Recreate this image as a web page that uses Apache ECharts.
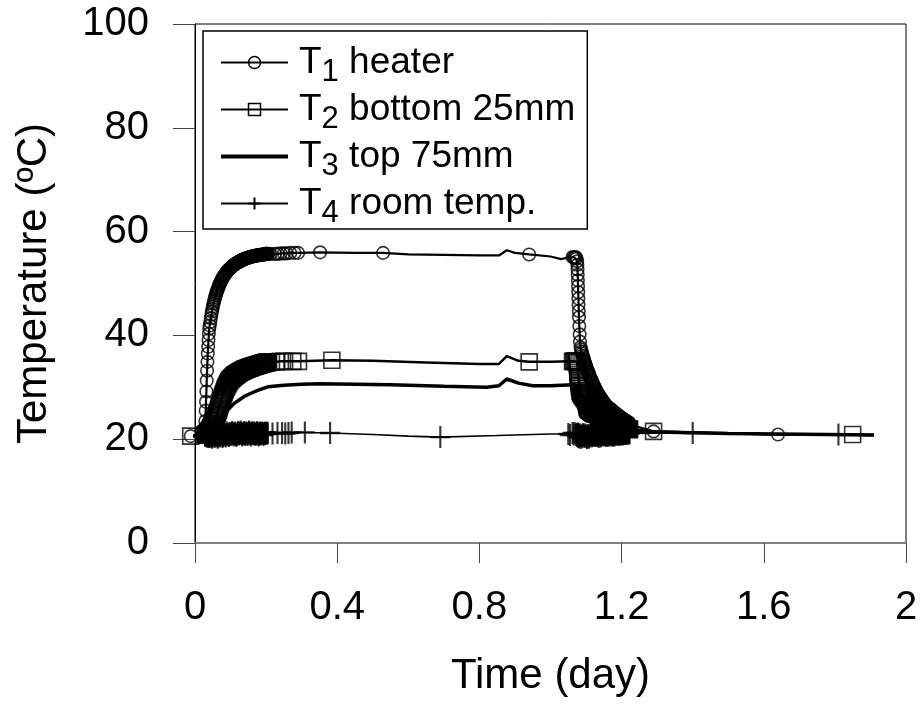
<!DOCTYPE html>
<html><head><meta charset="utf-8">
<script src="https://cdn.jsdelivr.net/npm/echarts@6/dist/echarts.min.js"></script>
<style>html,body{margin:0;padding:0;background:#fff}#c{width:922px;height:704px}</style>
</head><body><div id="c"></div>
<script>
const FONT = '"Liberation Sans", Arial, Helvetica, sans-serif';

const xTicks = [0, 0.4, 0.8, 1.2, 1.6, 2];
const yTicks = [0, 20, 40, 60, 80, 100];
const seriesNames = ['T1 heater', 'T2 bottom 25mm', 'T3 top 75mm', 'T4 room temp.'];
const legendRest = ['heater', 'bottom 25mm', 'top 75mm', 'room temp.'];

// dense logging while heating starts (shared time base, day) - T1, T2, T4
const heatTime = [0.028, 0.029, 0.030, 0.031, 0.032, 0.033, 0.034, 0.035, 0.036, 0.037, 0.038, 0.039, 0.040,
  0.0415, 0.0430, 0.0445, 0.0460, 0.0475, 0.0490, 0.0505, 0.0520, 0.0535, 0.0550,
  0.0565, 0.0580, 0.0595, 0.0610, 0.0625, 0.0640, 0.0655, 0.0670, 0.0685, 0.0700,
  0.0715, 0.0730, 0.0745, 0.0760, 0.0775, 0.0790, 0.0805, 0.0820, 0.0835, 0.0850,
  0.0865, 0.0880, 0.0895, 0.0910, 0.0925, 0.0940, 0.0955, 0.0970, 0.0985, 0.1000,
  0.1015, 0.1030, 0.1045, 0.1060, 0.1075, 0.1090, 0.1105, 0.1120, 0.1135, 0.1150,
  0.1165, 0.1180, 0.1195, 0.1210, 0.1225, 0.1240, 0.1255, 0.1270, 0.1285, 0.1300,
  0.1315, 0.1330, 0.1345, 0.1360, 0.1375, 0.1390, 0.1405, 0.1420, 0.1435, 0.1450,
  0.1465, 0.1480, 0.1495, 0.1510, 0.1525, 0.1540, 0.1555, 0.1570, 0.1585, 0.1600,
  0.1615, 0.1630, 0.1645, 0.1660, 0.1675, 0.1690, 0.1705, 0.1720, 0.1735, 0.1750,
  0.1765, 0.1780, 0.1795, 0.1810, 0.1825, 0.1840, 0.1855, 0.1870, 0.1885, 0.1900,
  0.1915, 0.1930, 0.1945, 0.1960, 0.1975, 0.1990, 0.2005, 0.2020, 0.2035, 0.2050];
const t1Heat = [21.0, 23.5, 25.5, 27.2, 29.2, 31.3, 33.2, 34.9, 36.5, 37.8, 39.1, 40.3, 41.3,
  41.9, 42.6, 43.3, 44.0, 44.6, 45.1, 45.6, 46.1, 46.5, 46.9,
  47.3, 47.7, 48.0, 48.3, 48.6, 48.9, 49.2, 49.5, 49.7, 50.0,
  50.2, 50.4, 50.6, 50.8, 51.0, 51.2, 51.4, 51.5, 51.7, 51.8,
  52.0, 52.1, 52.2, 52.4, 52.5, 52.6, 52.7, 52.8, 52.9, 53.0,
  53.1, 53.2, 53.3, 53.4, 53.5, 53.5, 53.6, 53.7, 53.8, 53.8,
  53.9, 54.0, 54.0, 54.1, 54.2, 54.2, 54.3, 54.3, 54.4, 54.4,
  54.5, 54.5, 54.6, 54.6, 54.7, 54.7, 54.7, 54.8, 54.8, 54.9,
  54.9, 54.9, 55.0, 55.0, 55.0, 55.1, 55.1, 55.1, 55.2, 55.2,
  55.2, 55.2, 55.3, 55.3, 55.3, 55.3, 55.4, 55.4, 55.4, 55.4,
  55.4, 55.5, 55.5, 55.5, 55.5, 55.5, 55.5, 55.6, 55.6, 55.6,
  55.6, 55.6, 55.6, 55.6, 55.7, 55.7, 55.7, 55.7, 55.7, 55.7];
const t2Heat = [20.8, 20.8, 20.9, 20.9, 21.0, 21.0, 21.1, 21.2, 21.2, 21.3, 21.4, 21.5, 21.6,
  21.8, 22.0, 22.2, 22.4, 22.6, 22.8, 23.0, 23.3, 23.5, 23.7,
  24.0, 24.2, 24.5, 24.7, 25.0, 25.3, 25.6, 25.9, 26.2, 26.6,
  26.9, 27.3, 27.6, 27.9, 28.2, 28.5, 28.8, 29.1, 29.4, 29.6,
  29.9, 30.1, 30.3, 30.5, 30.7, 30.9, 31.1, 31.2, 31.4, 31.5,
  31.6, 31.7, 31.8, 31.9, 32.0, 32.1, 32.2, 32.3, 32.3, 32.4,
  32.5, 32.6, 32.6, 32.7, 32.8, 32.8, 32.9, 33.0, 33.0, 33.1,
  33.1, 33.2, 33.2, 33.3, 33.3, 33.4, 33.4, 33.5, 33.5, 33.5,
  33.6, 33.6, 33.7, 33.7, 33.7, 33.8, 33.8, 33.9, 33.9, 33.9,
  34.0, 34.0, 34.0, 34.1, 34.1, 34.1, 34.2, 34.2, 34.2, 34.3,
  34.3, 34.3, 34.4, 34.4, 34.4, 34.5, 34.5, 34.5, 34.6, 34.6,
  34.6, 34.6, 34.7, 34.7, 34.7, 34.7, 34.8, 34.8, 34.8, 34.8];
const t4Heat = [20.8, 20.6, 20.9, 21.0, 20.7, 20.5, 20.8, 21.0, 20.6, 20.4, 20.7, 20.9, 20.5,
  20.4, 20.7, 20.9, 20.6, 20.3, 20.5, 20.8, 21.0, 20.7, 20.4,
  20.6, 20.9, 21.1, 20.8, 20.5, 20.3, 20.6, 20.9, 20.7, 20.5,
  20.8, 21.1, 21.0, 20.7, 20.4, 20.6, 20.9, 21.2, 21.0, 20.7,
  20.5, 20.8, 21.1, 21.3, 21.0, 20.7, 20.6, 20.9, 21.2, 21.0,
  20.8, 21.1, 21.4, 21.2, 20.9, 20.7, 21.0, 21.3, 21.1, 20.8,
  20.6, 20.9, 21.2, 21.4, 21.1, 20.9, 21.0, 21.3, 21.5, 21.2,
  20.9, 20.7, 21.0, 21.2, 21.4, 21.1, 20.8, 21.0, 21.3, 21.2,
  21.0, 20.8, 21.1, 21.3, 21.5, 21.2, 20.9, 20.7, 21.0, 21.2,
  21.4, 21.1, 20.9, 21.1, 21.3, 21.0, 20.8, 21.0, 21.2, 21.4,
  21.2, 20.9, 20.7, 21.0, 21.3, 21.1, 20.9, 21.1, 21.3, 21.2,
  21.0, 20.8, 21.1, 21.3, 21.2, 21.0, 21.1, 21.3, 21.2, 21.1];

// dense logging around and after the heater switch-off - T1, T2, T4
const coolTime = [1.062, 1.065,
  1.068, 1.071, 1.073, 1.075, 1.0755, 1.076, 1.0765, 1.077, 1.0775, 1.078, 1.0785, 1.079, 1.0795, 1.080, 1.081, 1.082, 1.083,
  1.0845, 1.0860, 1.0875, 1.0890, 1.0905, 1.0920, 1.0935, 1.0950, 1.0965, 1.0980,
  1.0995, 1.1010, 1.1025, 1.1040, 1.1055, 1.1070, 1.1085, 1.1100, 1.1115, 1.1130,
  1.1145, 1.1160, 1.1175, 1.1190, 1.1205, 1.1220, 1.1235, 1.1250, 1.1265, 1.1280,
  1.1295, 1.1310, 1.1325, 1.1340, 1.1355, 1.1370, 1.1385, 1.1400, 1.1415, 1.1430,
  1.1445, 1.1460, 1.1475, 1.1490, 1.1505, 1.1520, 1.1535, 1.1550, 1.1565, 1.1580,
  1.1595, 1.1610, 1.1625, 1.1640, 1.1655, 1.1670, 1.1685, 1.1700, 1.1715, 1.1730,
  1.1745, 1.1760, 1.1775, 1.1790, 1.1805, 1.1820, 1.1835, 1.1850, 1.1865, 1.1880,
  1.1895, 1.1910, 1.1925, 1.1940, 1.1955, 1.1970, 1.1985, 1.2000, 1.2015, 1.2030,
  1.2045, 1.2060, 1.2075, 1.2090, 1.2105, 1.2120, 1.2135, 1.2150, 1.2165, 1.2180,
  1.2195, 1.2210, 1.2225];
const t1Cool = [55.1, 55.0,
  55.0, 55.1, 54.8, 54.3, 53.6, 52.7, 51.7, 50.6, 49.5, 48.3, 47.1, 45.9, 44.7, 43.5, 41.8, 40.2, 38.8,
  37.7, 37.3, 36.9, 36.5, 36.1, 35.8, 35.4, 35.1, 34.8, 34.5,
  34.2, 33.9, 33.6, 33.3, 33.0, 32.8, 32.5, 32.2, 32.0, 31.7,
  31.5, 31.2, 31.0, 30.8, 30.5, 30.3, 30.1, 29.9, 29.7, 29.5,
  29.3, 29.1, 28.9, 28.7, 28.6, 28.4, 28.2, 28.1, 27.9, 27.8,
  27.6, 27.5, 27.3, 27.2, 27.0, 26.9, 26.8, 26.6, 26.5, 26.4,
  26.3, 26.2, 26.1, 26.0, 25.9, 25.9, 25.8, 25.7, 25.6, 25.6,
  25.5, 25.4, 25.3, 25.2, 25.1, 25.0, 24.9, 24.9, 24.8, 24.7,
  24.6, 24.5, 24.5, 24.4, 24.3, 24.2, 24.2, 24.1, 24.0, 24.0,
  23.9, 23.8, 23.7, 23.7, 23.6, 23.5, 23.5, 23.4, 23.3, 23.3,
  23.2, 23.1, 23.1];
const t2Cool = [35.0, 35.0,
  35.0, 35.1, 35.0, 34.8, 34.5, 34.1, 33.7, 33.3, 32.9, 32.5, 32.1, 31.7, 31.3, 30.9, 30.3, 29.8, 29.3,
  29.0, 28.8, 28.7, 28.5, 28.4, 28.2, 28.1, 27.9, 27.8, 27.6,
  27.5, 27.3, 27.2, 27.1, 26.9, 26.8, 26.7, 26.5, 26.4, 26.3,
  26.2, 26.1, 25.9, 25.8, 25.7, 25.6, 25.5, 25.4, 25.3, 25.2,
  25.1, 25.0, 24.9, 24.8, 24.7, 24.6, 24.5, 24.5, 24.4, 24.3,
  24.2, 24.2, 24.1, 24.0, 23.9, 23.9, 23.8, 23.7, 23.7, 23.6,
  23.5, 23.5, 23.4, 23.4, 23.3, 23.3, 23.2, 23.2, 23.1, 23.1,
  23.0, 23.0, 22.9, 22.9, 22.8, 22.8, 22.7, 22.7, 22.7, 22.6,
  22.6, 22.5, 22.5, 22.5, 22.4, 22.4, 22.4, 22.3, 22.3, 22.3,
  22.2, 22.2, 22.2, 22.1, 22.1, 22.1, 22.0, 22.0, 22.0, 22.0,
  21.9, 21.9, 21.9];
const t4Cool = [21.2, 20.9,
  21.2, 20.8, 21.0, 20.6, 20.9, 21.1, 20.7, 20.5, 20.8, 21.0, 20.6, 20.4, 20.7, 20.9, 20.5, 20.3, 20.6,
  20.9, 20.6, 20.3, 20.5, 20.8, 21.0, 20.7, 20.4, 20.6, 20.9,
  20.7, 20.4, 20.2, 20.5, 20.8, 20.6, 20.3, 20.5, 20.8, 21.0,
  20.8, 20.5, 20.7, 21.0, 20.8, 20.6, 20.9, 21.1, 20.9, 20.6,
  20.8, 21.1, 20.9, 20.6, 20.4, 20.7, 21.0, 20.8, 20.5, 20.7,
  21.0, 21.2, 20.9, 20.7, 20.9, 21.1, 20.8, 20.6, 20.8, 21.0,
  20.8, 20.6, 20.9, 21.1, 20.9, 20.7, 21.0, 21.2, 21.0, 20.8,
  20.6, 20.9, 21.1, 20.9, 20.7, 20.9, 21.1, 21.2, 21.0, 20.8,
  21.0, 21.2, 21.0, 20.8, 21.0, 21.1, 20.9, 21.1, 21.2, 21.0,
  20.9, 21.1, 21.2, 21.0, 21.2, 21.3, 21.1, 21.0, 21.2, 21.3,
  21.1, 21.2, 21.1];

// sparse readings drawn with a marker
const t1MarkTime = [-0.012, 0.212, 0.225, 0.233, 0.241, 0.250, 0.258, 0.268, 0.280, 0.290, 0.352, 0.529, 0.940, 1.290, 1.640];
const t1MarkTemp = [20.6, 55.7, 55.7, 55.7, 55.8, 55.8, 55.8, 55.9, 55.9, 55.9, 56.0, 55.9, 55.6, 21.5, 20.9];
const t2MarkTime = [-0.012, 0.215, 0.228, 0.240, 0.252, 0.275, 0.291, 0.385, 0.940, 1.290, 1.850];
const t2MarkTemp = [20.6, 34.9, 34.9, 35.0, 35.0, 35.0, 35.0, 35.2, 34.9, 21.5, 20.9];
const t4MarkTime = [1.050, 1.055, 0.218, 0.232, 0.245, 0.254, 0.263, 0.272, 0.309, 0.380, 0.690, 1.400, 1.810];
const t4MarkTemp = [21.0, 20.8, 21.1, 21.2, 21.2, 21.1, 21.2, 21.3, 21.3, 21.2, 20.4, 21.2, 20.9];

// readings on the line only
const t1PathTime = [0.45, 0.60, 0.70, 0.80, 0.855, 0.877, 0.90, 1.00, 1.03, 1.055, 1.245, 1.40, 1.50, 1.75, 1.91];
const t1PathTemp = [55.9, 55.6, 55.5, 55.4, 55.4, 56.4, 55.9, 55.2, 54.7, 55.1, 22.4, 21.3, 21.1, 20.9, 20.8];
const t2PathTime = [0.50, 0.65, 0.80, 0.855, 0.877, 0.91, 1.00, 1.055, 1.245, 1.40, 1.60, 1.91];
const t2PathTemp = [35.1, 34.8, 34.5, 34.5, 36.0, 35.1, 34.9, 35.0, 21.8, 21.3, 21.0, 20.8];
const t3PathTime = [-0.012, 0.028, 0.035, 0.040, 0.045, 0.050, 0.055, 0.060, 0.065, 0.070, 0.080, 0.090, 0.100,
  0.112, 0.125, 0.140, 0.159, 0.180, 0.205, 0.25, 0.30, 0.35, 0.45, 0.55, 0.70, 0.82, 0.855, 0.877, 0.91, 0.95,
  1.00, 1.062, 1.068, 1.073, 1.075, 1.0765, 1.078, 1.0795, 1.081, 1.083, 1.086, 1.090, 1.100, 1.110, 1.120,
  1.135, 1.150, 1.170, 1.190, 1.210, 1.223, 1.30, 1.50, 1.91];
const t3PathTemp = [20.6, 20.7, 21.0, 21.2, 21.5, 21.9, 22.3, 22.7, 23.2, 23.7, 24.6, 25.5, 26.2,
  27.0, 27.6, 28.3, 28.9, 29.5, 30.1, 30.4, 30.6, 30.7, 30.6, 30.5, 30.2, 30.0, 30.3, 31.6, 30.8, 30.3,
  30.3, 30.5, 30.4, 30.4, 30.2, 29.2, 28.0, 26.8, 25.7, 24.8, 24.3, 24.0, 23.6, 23.4, 23.2,
  23.0, 22.7, 22.4, 22.1, 21.8, 21.6, 21.4, 21.1, 20.8];
const t4PathTime = [-0.012, 0.50, 0.60, 0.85, 1.00, 1.91];
const t4PathTemp = [20.7, 20.9, 20.6, 20.7, 21.0, 20.8];

function pairs(ts, vs) { return ts.map((t, i) => [t, vs[i]]); }
function byTime(a, b) { return a[0] - b[0]; }

const t1Marks = pairs(heatTime, t1Heat).concat(pairs(coolTime, t1Cool), pairs(t1MarkTime, t1MarkTemp));
const t2Marks = pairs(heatTime, t2Heat).concat(pairs(coolTime, t2Cool), pairs(t2MarkTime, t2MarkTemp));
const t4Marks = pairs(heatTime, t4Heat).concat(pairs(coolTime, t4Cool), pairs(t4MarkTime, t4MarkTemp));
const t1Line = t1Marks.concat(pairs(t1PathTime, t1PathTemp)).sort(byTime);
const t2Line = t2Marks.concat(pairs(t2PathTime, t2PathTemp)).sort(byTime);
const t3Line = pairs(t3PathTime, t3PathTemp).sort(byTime);
const t4Line = t4Marks.concat(pairs(t4PathTime, t4PathTemp)).sort(byTime);

const PLUS = 'path://M0,11L20,11M10,0L10,22';
const hollow = { color: 'transparent', borderColor: '#000', borderWidth: 1.5 };

function lineSeries(name, data, symbol, width) {
  return { name, type: 'line', data, symbol, showSymbol: false, clip: false,
    lineStyle: { color: '#000', width }, itemStyle: hollow, silent: true, z: 2 };
}
function markSeries(name, data, symbol, size, bw) {
  return { name, type: 'scatter', data, symbol, symbolSize: size, clip: false, silent: true,
    itemStyle: { color: 'transparent', borderColor: '#000', borderWidth: bw }, z: 3 };
}

const legendItemStyle = { color: 'transparent', borderColor: '#000', borderWidth: 1.5 };
const richText = {
  a: { fontSize: 37, lineHeight: 34, fontFamily: FONT, color: '#000', padding: [0, 0, 0, 6] },
  t: { fontSize: 37, lineHeight: 34, fontFamily: FONT, color: '#000' },
  s: { fontSize: 31, height: 14, lineHeight: 34, verticalAlign: 'bottom', fontFamily: FONT, color: '#000' }
};

const chart = echarts.init(document.getElementById('c'), null, { renderer: 'canvas' });
chart.setOption({
  animation: false,
  backgroundColor: '#fff',
  grid: { left: 195, top: 24, width: 711, height: 519, show: true, borderColor: '#000', borderWidth: 1,
    containLabel: false, outerBoundsMode: 'none' },
  xAxis: {
    type: 'value', min: xTicks[0], max: xTicks[xTicks.length - 1], interval: xTicks[1] - xTicks[0],
    axisLine: { show: true, onZero: false, lineStyle: { color: '#808080', width: 2 } },
    axisTick: { show: true, inside: false, length: 20, lineStyle: { color: '#444', width: 1 } },
    axisLabel: { margin: 45, fontSize: 40, color: '#000', fontFamily: FONT,
      formatter: v => String(Math.round(v * 10) / 10) },
    splitLine: { show: false },
    name: 'Time (day)', nameLocation: 'middle', nameGap: 112,
    nameTextStyle: { fontSize: 42, color: '#000', fontFamily: FONT }
  },
  yAxis: {
    type: 'value', min: yTicks[0], max: yTicks[yTicks.length - 1], interval: yTicks[1] - yTicks[0],
    axisLine: { show: true, onZero: false, lineStyle: { color: '#000', width: 1 } },
    axisTick: { show: true, inside: false, length: 22, lineStyle: { color: '#444', width: 1 } },
    axisLabel: { margin: 46, fontSize: 40, color: '#000', fontFamily: FONT },
    splitLine: { show: false },
    name: 'Temperature (ºC)', nameLocation: 'middle', nameGap: 140, nameRotate: 90,
    nameTextStyle: { fontSize: 42, color: '#000', fontFamily: FONT }
  },
  legend: {
    orient: 'vertical', left: 203, top: 31, padding: [13, 12, 0, 16],
    itemWidth: 67, itemHeight: 15, itemGap: 3, selectedMode: false,
    borderColor: '#000', borderWidth: 1.5, backgroundColor: '#fff',
    data: [
      { name: seriesNames[0], itemStyle: legendItemStyle, lineStyle: { color: '#000', width: 2 } },
      { name: seriesNames[1], itemStyle: legendItemStyle, lineStyle: { color: '#000', width: 2 } },
      { name: seriesNames[2], itemStyle: { color: 'transparent', borderColor: 'transparent', borderWidth: 0, opacity: 0 }, lineStyle: { color: '#000', width: 4 } },
      { name: seriesNames[3], itemStyle: { color: 'transparent', borderColor: '#000', borderWidth: 2 }, lineStyle: { color: '#000', width: 2 } }
    ],
    formatter: function (name) {
      const i = seriesNames.indexOf(name);
      return '{a|T}{s|' + (i + 1) + '}{t| ' + legendRest[i] + '}';
    },
    textStyle: { color: '#000', fontFamily: FONT, fontSize: 37, rich: richText }
  },
  series: [
    lineSeries(seriesNames[0], t1Line, 'circle', 2.2),
    markSeries('T1 readings', t1Marks, 'circle', 12.5, 1.6),
    lineSeries(seriesNames[1], t2Line, 'rect', 2.5),
    markSeries('T2 readings', t2Marks, 'rect', 16, 1.6),
    lineSeries(seriesNames[2], t3Line, 'circle', 3.5),
    lineSeries(seriesNames[3], t4Line, PLUS, 1.6),
    markSeries('T4 readings', t4Marks, PLUS, [20, 22], 2.2)
  ]
});
</script></body></html>
